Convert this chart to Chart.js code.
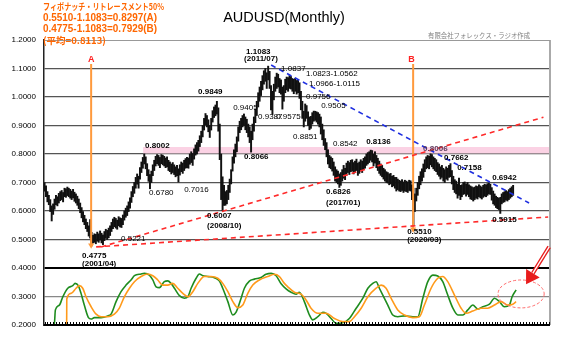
<!DOCTYPE html>
<html lang="ja">
<head>
<meta charset="UTF-8">
<title>AUDUSD(Monthly)</title>
<script src="https://cdn.jsdelivr.net/npm/chart.js@4.4.1/dist/chart.umd.min.js"></script>
<style>
  html, body { margin: 0; padding: 0; background: #fff; }
  #wrap { width: 567px; height: 352px; }
</style>
</head>
<body>
<div id="wrap"><canvas id="chart" width="567" height="352"></canvas></div>
<script>
// monthly candles, index 0 = first month on the left edge
const lows = [
  0.670,0.650,0.632,0.622,0.598,0.565,0.588,0.606,0.622,0.618,0.628,0.636,
  0.640,0.632,0.650,0.648,0.654,0.650,0.645,0.640,0.646,0.634,0.628,0.620,
  0.608,0.594,0.576,0.562,0.552,0.538,0.528,0.512,0.505,0.4775,0.488,0.490,
  0.485,0.494,0.490,0.498,0.488,0.482,0.496,0.504,0.500,0.506,0.514,0.528,
  0.538,0.545,0.540,0.536,0.548,0.544,0.542,0.552,0.568,0.578,0.584,0.598,
  0.610,0.630,0.650,0.662,0.680,0.694,0.680,0.712,0.735,0.750,0.765,0.748,
  0.724,0.704,0.678,0.700,0.724,0.742,0.758,0.766,0.760,0.752,0.766,0.762,
  0.758,0.752,0.755,0.742,0.738,0.730,0.735,0.728,0.720,0.724,0.7016,0.726,
  0.738,0.732,0.742,0.750,0.752,0.750,0.764,0.770,0.760,0.782,0.796,0.800,
  0.810,0.826,0.840,0.860,0.884,0.902,0.895,0.878,0.858,0.884,0.912,0.928,
  0.934,0.940,0.880,0.780,0.640,0.6007,0.620,0.620,0.625,0.640,0.665,0.695,
  0.740,0.768,0.790,0.808,0.845,0.875,0.885,0.895,0.900,0.885,0.875,0.860,
  0.840,0.8066,0.850,0.880,0.910,0.935,0.965,0.985,1.005,1.025,1.045,1.055,
  1.030,1.060,1.030,0.955,0.9387,0.990,1.020,1.030,1.035,1.015,1.010,0.9575,
  0.985,1.015,1.025,1.020,1.030,1.028,1.020,1.0115,1.020,1.010,1.015,0.995,
  0.955,0.925,0.895,0.915,0.925,0.900,0.8851,0.890,0.905,0.915,0.918,0.912,
  0.905,0.895,0.870,0.850,0.830,0.815,0.790,0.765,0.752,0.748,0.740,0.725,
  0.705,0.700,0.695,0.6826,0.690,0.705,0.715,0.710,0.725,0.735,0.728,0.738,
  0.740,0.730,0.735,0.742,0.725,0.732,0.740,0.735,0.745,0.750,0.760,0.765,
  0.770,0.778,0.772,0.758,0.768,0.752,0.742,0.732,0.725,0.720,0.712,0.705,
  0.700,0.698,0.692,0.695,0.685,0.688,0.680,0.670,0.675,0.670,0.668,0.672,
  0.665,0.670,0.668,0.665,0.672,0.670,0.640,0.5510,0.598,0.635,0.655,0.678,
  0.692,0.705,0.718,0.738,0.748,0.752,0.748,0.762,0.755,0.748,0.742,0.738,
  0.728,0.722,0.712,0.718,0.705,0.700,0.712,0.708,0.718,0.720,0.695,0.675,
  0.665,0.660,0.645,0.655,0.640,0.650,0.658,0.660,0.652,0.658,0.650,0.642,
  0.640,0.635,0.640,0.645,0.642,0.650,0.646,0.642,0.648,0.652,0.650,0.655,
  0.660,0.658,0.638,0.625,0.620,0.612,0.608,0.605,0.5915,0.625,0.630,0.632,
  0.638,0.635,0.640,0.645,0.650,0.655
];
const highs = [
  0.700,0.688,0.668,0.655,0.640,0.618,0.625,0.642,0.655,0.650,0.662,0.668,
  0.672,0.665,0.680,0.678,0.684,0.680,0.676,0.670,0.676,0.666,0.660,0.652,
  0.642,0.628,0.612,0.598,0.585,0.572,0.560,0.548,0.570,0.525,0.515,0.520,
  0.518,0.526,0.520,0.530,0.522,0.516,0.528,0.536,0.532,0.540,0.548,0.560,
  0.572,0.578,0.574,0.568,0.580,0.576,0.574,0.586,0.600,0.610,0.618,0.632,
  0.646,0.668,0.686,0.700,0.718,0.730,0.722,0.752,0.772,0.788,0.8002,0.790,
  0.766,0.745,0.728,0.740,0.762,0.778,0.792,0.798,0.795,0.788,0.798,0.796,
  0.792,0.786,0.790,0.778,0.772,0.765,0.770,0.762,0.755,0.760,0.748,0.762,
  0.772,0.768,0.778,0.784,0.788,0.786,0.800,0.808,0.802,0.818,0.832,0.840,
  0.848,0.864,0.880,0.900,0.925,0.942,0.935,0.920,0.900,0.925,0.952,0.965,
  0.972,0.9849,0.962,0.905,0.800,0.720,0.690,0.668,0.672,0.690,0.712,0.745,
  0.790,0.815,0.835,0.860,0.895,0.915,0.925,0.935,0.9405,0.930,0.922,0.905,
  0.895,0.880,0.905,0.930,0.958,0.985,1.015,1.035,1.055,1.075,1.092,1.100,
  1.085,1.1083,1.090,1.040,1.020,1.045,1.070,1.0837,1.080,1.065,1.060,1.035,
  1.040,1.0623,1.070,1.068,1.075,1.072,1.065,1.062,1.066,1.058,1.062,1.050,
  1.020,0.985,0.950,0.9756,0.970,0.948,0.930,0.932,0.945,0.9505,0.950,0.948,
  0.945,0.940,0.930,0.905,0.885,0.8542,0.840,0.815,0.795,0.790,0.785,0.772,
  0.755,0.745,0.740,0.730,0.735,0.745,0.760,0.750,0.768,0.775,0.770,0.778,
  0.780,0.770,0.775,0.782,0.768,0.772,0.780,0.775,0.785,0.790,0.800,0.805,
  0.808,0.8136,0.812,0.800,0.808,0.795,0.785,0.775,0.765,0.760,0.750,0.745,
  0.738,0.735,0.730,0.732,0.722,0.725,0.718,0.718,0.712,0.708,0.705,0.710,
  0.702,0.708,0.705,0.702,0.708,0.706,0.692,0.680,0.660,0.680,0.700,0.722,
  0.738,0.748,0.765,0.780,0.790,0.795,0.792,0.8006,0.798,0.790,0.785,0.780,
  0.770,0.765,0.755,0.760,0.750,0.745,0.755,0.750,0.760,0.7662,0.742,0.722,
  0.710,0.705,0.695,0.7158,0.690,0.692,0.700,0.702,0.695,0.700,0.692,0.688,
  0.685,0.682,0.684,0.688,0.686,0.692,0.688,0.684,0.690,0.694,0.692,0.696,
  0.698,0.6942,0.682,0.670,0.660,0.652,0.648,0.645,0.648,0.660,0.665,0.668,
  0.672,0.668,0.675,0.680,0.685,0.690
];

// oscillator (plotted in the 0.2 - 0.4 band), [month index, value]
const greenOsc = [
  [0,0.2],[6.8,0.2],[7.6,0.253],[10.4,0.270],[12.8,0.299],[16.3,0.329],[19.8,0.338],[21.4,0.346],
  [23.7,0.338],[25.6,0.311],[27.9,0.270],[30.8,0.226],[32.7,0.221],[35,0.226],[39.7,0.226],[44.4,0.232],
  [46.7,0.238],[50.2,0.282],[53.7,0.317],[57.2,0.340],[60.7,0.358],[63.1,0.373],[67.8,0.379],[70.1,0.381],
  [73.6,0.375],[76,0.358],[78.3,0.334],[80.6,0.331],[84.1,0.352],[86.5,0.355],[88.8,0.346],[91.2,0.329],
  [94.7,0.303],[98.2,0.294],[100.6,0.299],[102.9,0.329],[106.4,0.364],[108.7,0.379],[111.1,0.373],[114.6,0.370],
  [119.2,0.366],[122.8,0.354],[125.1,0.329],[128.7,0.282],[132.2,0.235],[134.5,0.245],[138,0.294],[140.3,0.329],
  [143.8,0.354],[147.3,0.361],[152,0.367],[155.5,0.378],[159.1,0.381],[162.6,0.373],[166.1,0.345],[169.6,0.327],
  [173.1,0.315],[176.6,0.308],[178.9,0.315],[182.4,0.282],[186,0.235],[188.3,0.218],[191.9,0.229],[195.4,0.245],
  [197.7,0.241],[201.2,0.223],[204.7,0.206],[209.4,0.208],[214,0.223],[218.8,0.259],[223.5,0.294],[227,0.329],
  [230.5,0.346],[232.8,0.352],[235.1,0.329],[237.5,0.305],[241,0.270],[244.5,0.235],[248,0.229],[252.7,0.232],
  [258.6,0.229],[262.1,0.229],[265.6,0.294],[269.1,0.352],[272.6,0.375],[276.1,0.372],[279.6,0.352],[283.1,0.305],
  [286.7,0.259],[290.2,0.235],[293.7,0.235],[297.2,0.253],[300.7,0.270],[304.2,0.256],[307.7,0.264],[312.4,0.273],
  [315.9,0.294],[319.4,0.282],[322.9,0.264],[326.4,0.270],[328.3,0.299],[331.1,0.323]
];
const orangeOsc = [
  [0,0.2],[15.5,0.2],[15.6,0.291],[18.6,0.311],[22.1,0.329],[24.4,0.338],[26.8,0.329],[29.1,0.299],
  [32.7,0.264],[36.2,0.238],[39.7,0.229],[44.4,0.229],[49,0.238],[52.5,0.259],[56,0.299],[59.6,0.329],
  [63.1,0.352],[67.8,0.370],[72.5,0.379],[76,0.373],[79.5,0.358],[83,0.340],[86.5,0.340],[90,0.346],
  [93.5,0.329],[97.1,0.311],[100.6,0.299],[104.1,0.317],[107.6,0.346],[112.2,0.370],[116.9,0.370],[121.6,0.364],
  [125.1,0.346],[128.7,0.317],[132.2,0.282],[135.7,0.261],[139.2,0.270],[142.7,0.311],[146.2,0.340],[150.8,0.358],
  [156.7,0.370],[161.4,0.378],[164.9,0.370],[168.4,0.346],[170.8,0.334],[175.4,0.315],[180.1,0.308],[183.6,0.288],
  [187.1,0.259],[191.9,0.241],[197.7,0.241],[203.5,0.223],[209.4,0.212],[214,0.212],[217.6,0.229],[222.3,0.259],
  [227,0.299],[232.8,0.329],[236.3,0.340],[239.8,0.329],[243.3,0.294],[248,0.253],[252.7,0.235],[258.6,0.226],
  [263.2,0.229],[266.7,0.270],[271.4,0.329],[276.1,0.364],[279.6,0.370],[283.1,0.352],[287.8,0.305],[292.5,0.259],
  [296,0.241],[300.7,0.249],[306.5,0.259],[311.2,0.259],[315.9,0.270],[320.6,0.282],[325.3,0.270],[328.8,0.273],
  [331.1,0.282]
];

// trend lines and marker lines, [month index, price]
const supportSteep = [[39.7, 0.474], [350.3, 0.929]];
const supportFlat = [[36.2, 0.474], [353.6, 0.579]];
const resistance = [[159.1, 1.112], [340.2, 0.628]];
const lineA = [[32.7, 1.116], [32.7, 0.480]];
const lineB = [[258.8, 1.116], [258.8, 0.536]];

const yTicks = [0.2, 0.3, 0.4, 0.5, 0.6, 0.7, 0.8, 0.9, 1.0, 1.1, 1.2];
const fibBand = [0.802, 0.8245, 69.2];

// price notes: text, month index, price, bold
const notes = [
  ['1.1083', 141.5, 1.158, true], ['(2011/07)', 140.1, 1.133, true],
  ['1.0837', 166.1, 1.098, false], ['1.0823-1.0562', 183.6, 1.081, false],
  ['1.0966-1.0115', 185.7, 1.046, false], ['0.9849', 107.8, 1.018, true],
  ['0.9756', 183.6, 1.0, false], ['0.9505', 194.2, 0.968, false],
  ['0.9405', 132.4, 0.961, false], ['0.9387', 149.9, 0.930, false],
  ['0.9575', 162.6, 0.930, false], ['0.8851', 174.5, 0.860, false],
  ['0.8542', 202.6, 0.835, false], ['0.8136', 225.8, 0.842, true],
  ['0.8066', 140.1, 0.789, true], ['0.8002', 70.6, 0.828, true],
  ['0.6780', 73.4, 0.663, false], ['0.7016', 98.0, 0.674, false],
  ['0.6007', 114.1, 0.582, true], ['(2008/10)', 114.1, 0.547, true],
  ['0.4775', 26.3, 0.442, true], ['(2001/04)', 26.3, 0.414, true],
  ['0.5221', 53.7, 0.502, false], ['0.6826', 197.7, 0.667, true],
  ['(2017/01)', 197.7, 0.628, true], ['0.5510', 254.6, 0.526, true],
  ['(2020/03)', 254.6, 0.498, true], ['0.8006', 265.8, 0.818, true],
  ['0.7662', 280.5, 0.786, true], ['0.7158', 289.7, 0.751, true],
  ['0.6942', 314.3, 0.716, true], ['0.5915', 314.3, 0.568, true]
];
const markLetters = [['A', 32.7, 1.130], ['B', 257.6, 1.130]];
const circleMark = [334.6, 0.309, 16.2, 0.049];
const arrowMark = [[354.3, 0.474], [338.1, 0.343]];

const headerLines = [
  'フィボナッチ・リトレースメント50%',
  '0.5510-1.1083=0.8297(A)',
  '0.4775-1.1083=0.7929(B)',
  '(平均=0.8113)'
];

const SANS = "'Liberation Sans', Arial, sans-serif";
const JP = "'Noto Sans CJK JP', sans-serif";
const pts = arr => arr.map(p => ({ x: p[0], y: p[1] }));

const bandPlugin = {
  id: 'band',
  beforeDatasetsDraw(chart) {
    const { ctx, chartArea: a, scales: { x, y } } = chart;
    ctx.save();
    ctx.fillStyle = '#fbd2e4';
    const top = y.getPixelForValue(fibBand[1]);
    const bot = y.getPixelForValue(fibBand[0]);
    const left = x.getPixelForValue(fibBand[2]);
    ctx.fillRect(left, top, a.right - left, bot - top);
    ctx.restore();
  }
};

const overlayPlugin = {
  id: 'overlay',
  afterDatasetsDraw(chart) {
    const { ctx, chartArea: a, scales: { x, y } } = chart;
    ctx.save();
    // frame
    ctx.strokeStyle = '#aaa';
    ctx.lineWidth = 2;
    ctx.beginPath();
    ctx.moveTo(a.right, a.top);
    ctx.lineTo(a.right, a.bottom);
    ctx.stroke();
    ctx.strokeStyle = '#999';
    ctx.lineWidth = 1;
    ctx.beginPath();
    ctx.moveTo(a.left, a.top + 0.5);
    ctx.lineTo(a.right, a.top + 0.5);
    ctx.stroke();
    // monthly tick marks on the bottom axis
    ctx.strokeStyle = '#000';
    ctx.lineWidth = 1;
    ctx.beginPath();
    for (let m = 0; m <= x.max; m += 2) {
      const px = Math.round(x.getPixelForValue(m)) + 0.5;
      ctx.moveTo(px, a.bottom);
      ctx.lineTo(px, a.bottom - 3);
    }
    ctx.stroke();
    ctx.lineWidth = 2;
    ctx.beginPath();
    ctx.moveTo(a.left, a.bottom);
    ctx.lineTo(a.right, a.bottom);
    ctx.stroke();

    // price notes
    ctx.textBaseline = 'middle';
    ctx.textAlign = 'left';
    notes.forEach(([t, m, v, b]) => {
      ctx.font = (b ? 'bold ' : '') + '8px ' + SANS;
      ctx.fillStyle = t === '0.8006' ? '#5a3a5a' : '#000';
      ctx.fillText(t, x.getPixelForValue(m), y.getPixelForValue(v));
    });
    ctx.font = 'bold 9px ' + SANS;
    ctx.fillStyle = '#ff2020';
    ctx.textAlign = 'center';
    markLetters.forEach(([t, m, v]) => ctx.fillText(t, x.getPixelForValue(m), y.getPixelForValue(v)));

    // dashed ellipse
    const cx = x.getPixelForValue(circleMark[0]);
    const cy = y.getPixelForValue(circleMark[1]);
    const rx = x.getPixelForValue(circleMark[0] + circleMark[2]) - cx;
    const ry = cy - y.getPixelForValue(circleMark[1] + circleMark[3]);
    ctx.strokeStyle = '#ff6b6b';
    ctx.lineWidth = 1;
    ctx.setLineDash([3, 2]);
    ctx.beginPath();
    ctx.ellipse(cx, cy, rx, ry, 0, 0, Math.PI * 2);
    ctx.stroke();
    ctx.setLineDash([]);

    // red arrow
    const tx = x.getPixelForValue(arrowMark[0][0]), ty = y.getPixelForValue(arrowMark[0][1]);
    const hx = x.getPixelForValue(arrowMark[1][0]), hy = y.getPixelForValue(arrowMark[1][1]);
    const ang = Math.atan2(hy - ty, hx - tx);
    const headLen = 13, headW = 8;
    const bx = hx - Math.cos(ang) * headLen, by = hy - Math.sin(ang) * headLen;
    ctx.strokeStyle = '#e81c1c';
    ctx.lineWidth = 4;
    ctx.beginPath();
    ctx.moveTo(tx, ty);
    ctx.lineTo(bx, by);
    ctx.stroke();
    ctx.strokeStyle = '#fff';
    ctx.lineWidth = 1.3;
    ctx.beginPath();
    ctx.moveTo(tx, ty);
    ctx.lineTo(bx + Math.cos(ang) * 2, by + Math.sin(ang) * 2);
    ctx.stroke();
    ctx.fillStyle = '#e81c1c';
    ctx.beginPath();
    ctx.moveTo(hx, hy);
    ctx.lineTo(bx + Math.sin(ang) * headW, by - Math.cos(ang) * headW);
    ctx.lineTo(bx - Math.sin(ang) * headW, by + Math.cos(ang) * headW);
    ctx.closePath();
    ctx.fill();
    ctx.restore();
  },
  afterDraw(chart) {
    const { ctx } = chart;
    ctx.save();
    ctx.textBaseline = 'middle';
    ctx.textAlign = 'center';
    ctx.fillStyle = '#000';
    ctx.font = '14.5px ' + SANS;
    ctx.fillText('AUDUSD(Monthly)', 284, 18);

    ctx.textAlign = 'left';
    ctx.fillStyle = '#ff6600';
    ctx.font = 'bold 9px ' + JP;
    ctx.fillText(headerLines[0], 43, 7, 121);
    ctx.font = 'bold 10px ' + SANS;
    ctx.fillText(headerLines[1], 43, 18, 114);
    ctx.fillText(headerLines[2], 43, 29.5, 114);
    ctx.font = 'bold 9.5px ' + JP;
    ctx.fillText(headerLines[3], 43, 40, 68);

    ctx.fillStyle = '#808080';
    ctx.font = '7px ' + JP;
    ctx.fillText('有限会社フォレックス・ラジオ作成', 428, 35, 102);
    ctx.restore();
  }
};

const gridColor = c => {
  const v = Math.round(c.tick.value * 10);
  if (v === 4 || v === 2) return '#000';
  if (v === 3) return '#888';
  if (v === 12) return '#999';
  return '#555';
};
const gridWidth = c => {
  const v = Math.round(c.tick.value * 10);
  if (v === 4 || v === 2) return 2;
  if (v === 12) return 1;
  return 1.3;
};

new Chart(document.getElementById('chart'), {
  data: {
    datasets: [
      { type: 'line', data: pts(supportSteep), borderColor: '#ff2a2a', borderWidth: 1.6, borderDash: [5, 4], pointRadius: 0, order: 0 },
      { type: 'line', data: pts(supportFlat), borderColor: '#ff2a2a', borderWidth: 1.6, borderDash: [5, 4], pointRadius: 0, order: 0 },
      { type: 'line', data: pts(resistance), borderColor: '#1f2fe0', borderWidth: 1.6, borderDash: [5, 4], pointRadius: 0, order: 0 },
      { type: 'line', data: pts(lineA), borderColor: '#ff9a3c', borderWidth: 2, pointRadius: [0, 3.5], pointStyle: 'triangle', rotation: 180, pointBackgroundColor: '#ff9a3c', pointBorderWidth: 0, order: 1 },
      { type: 'line', data: pts(lineB), borderColor: '#ff9a3c', borderWidth: 2, pointRadius: [0, 3.5], pointStyle: 'triangle', rotation: 180, pointBackgroundColor: '#ff9a3c', pointBorderWidth: 0, order: 1 },
      { type: 'line', data: pts(orangeOsc), borderColor: '#ff9a1a', borderWidth: 1.6, pointRadius: 0, cubicInterpolationMode: 'monotone', order: 2 },
      { type: 'line', data: pts(greenOsc), borderColor: '#1e8c1e', borderWidth: 1.6, pointRadius: 0, cubicInterpolationMode: 'monotone', order: 3 },
      { type: 'bar', data: lows.map((lo, i) => ({ x: i, y: [lo, highs[i]] })), backgroundColor: '#111', borderWidth: 0, barThickness: 1.3, order: 4 }
    ]
  },
  options: {
    responsive: false,
    animation: false,
    devicePixelRatio: 1,
    layout: { padding: { left: 0, top: 40, right: 17, bottom: 27 } },
    plugins: { legend: { display: false }, tooltip: { enabled: false }, title: { display: false } },
    scales: {
      x: { type: 'linear', min: -0.4, max: 354.9, offset: false, display: false },
      y: {
        min: 0.2, max: 1.2,
        afterBuildTicks: s => { s.ticks = yTicks.map(v => ({ value: v })); },
        afterFit: s => { s.width = 44; },
        ticks: { callback: v => v.toFixed(4), color: '#000', padding: 8, font: { family: SANS, size: 8 } },
        grid: { color: gridColor, lineWidth: gridWidth, drawTicks: false },
        border: { display: true, color: '#222', width: 1.5 }
      }
    }
  },
  plugins: [bandPlugin, overlayPlugin]
});
</script>
</body>
</html>
